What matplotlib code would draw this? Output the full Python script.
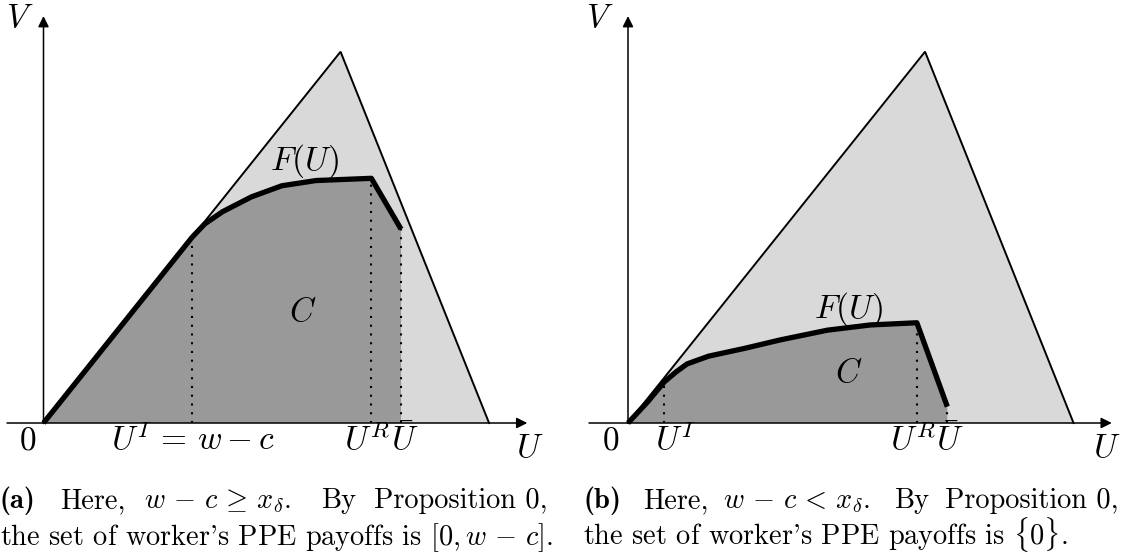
import numpy as np
import matplotlib
matplotlib.use("Agg")
import matplotlib.pyplot as plt

plt.rcParams['mathtext.fontset'] = 'cm'
plt.rcParams['font.family'] = ['cmr10', 'DejaVu Serif']
plt.rcParams['axes.formatter.use_mathtext'] = True

# feasible payoff triangle (same for both panels)
tri_u = [0, 8, 12]
tri_v = [0, 10, 0]

# panel (a): frontier F(U)
fa_u = [0, 4.0, 4.34, 4.82, 5.60, 6.42, 7.34, 8.83, 9.63]
fa_v = [0, 5.0, 5.36, 5.69, 6.09, 6.39, 6.53, 6.59, 5.22]
ui_a, ur_a, ubar_a = 4.0, 8.83, 9.63

# panel (b): frontier F(U)
fb_u = [0, 0.53, 0.98, 1.30, 1.59, 2.17, 3.14, 4.11, 5.37, 6.52, 7.78, 8.60]
fb_v = [0, 0.57, 1.11, 1.38, 1.59, 1.80, 2.01, 2.24, 2.50, 2.64, 2.70, 0.44]
ui_b, ur_b, ubar_b = 0.98, 7.78, 8.60

light = '#d9d9d9'
dark = '#999999'
px = 37.13  # pixels per unit

fig = plt.figure(figsize=(11.25, 5.57), dpi=100)


def panel(rect, x0, fu, fv, ui, ur, ubar, labels):
    ax = fig.add_axes(rect)
    ax.set_xlim(-x0 / px, (560 - x0) / px)
    ax.set_ylim((423 - 470) / px, 423 / px)
    ax.axis('off')

    ax.fill(tri_u, tri_v, color=light, lw=0, zorder=1)
    poly_u = list(fu) + [ubar, 0]
    poly_v = list(fv) + [0, 0]
    ax.fill(poly_u, poly_v, color=dark, lw=0, zorder=2)
    ax.plot(tri_u, tri_v, color='k', lw=1.4, zorder=3, solid_joinstyle='miter')

    for u in (ui, ur, ubar):
        ax.plot([u, u], [0, np.interp(u, fu, fv)], color='k', lw=1.5,
                ls=(0, (1, 3.2)), zorder=4)

    ax.plot(fu, fv, color='k', lw=3.8, zorder=5, solid_joinstyle='round',
            solid_capstyle='butt')

    # axes with arrows
    arrow = dict(arrowstyle='-|>', lw=1.1, color='k', mutation_scale=16,
                 shrinkA=0, shrinkB=0)
    ax.annotate('', xy=(13.03, 0), xytext=(-(x0 - 7) / px if x0 < 50 else -1.05, 0),
                arrowprops=arrow, zorder=6)
    ax.annotate('', xy=(0, 10.96), xytext=(0, 0), arrowprops=arrow, zorder=6)

    for (x, y, s, ha, va) in labels:
        ax.text(x, y, s, ha=ha, va=va, fontsize=24, zorder=7)
    return ax


labels_a = [
    (-0.42, -0.727, r'$0$', 'center', 'baseline'),
    (4.03, -0.727, r'$U^I\,=\,w - c$', 'center', 'baseline'),
    (8.09, -0.727, r'$U^R$', 'left', 'baseline'),
    (9.36, -0.727, r'$\bar{U}$', 'left', 'baseline'),
    (12.72, -0.916, r'$U$', 'left', 'baseline'),
    (-0.633, 10.67, r'$V$', 'center', 'baseline'),
    (7.02, 7.06, r'$F(U)$', 'center', 'center'),
    (6.99, 2.99, r'$C$', 'center', 'center'),
]
labels_b = [
    (-0.46, -0.727, r'$0$', 'center', 'baseline'),
    (0.73, -0.727, r'$U^I$', 'left', 'baseline'),
    (7.06, -0.727, r'$U^R$', 'left', 'baseline'),
    (8.30, -0.727, r'$\bar{U}$', 'left', 'baseline'),
    (12.52, -0.916, r'$U$', 'left', 'baseline'),
    (-0.75, 10.67, r'$V$', 'center', 'baseline'),
    (5.95, 3.07, r'$F(U)$', 'center', 'center'),
    (5.94, 1.35, r'$C$', 'center', 'center'),
]

H = 557.0
W = 1125.0
panel([0, 87 / H, 560 / W, 470 / H], 43.5, fa_u, fa_v, ui_a, ur_a, ubar_a, labels_a)
panel([565 / W, 87 / H, 560 / W, 470 / H], 63.0, fb_u, fb_v, ui_b, ur_b, ubar_b, labels_b)

# captions
cfs = 20.4
y1 = 1 - 508 / H
y2 = 1 - 545 / H
renderer = fig.canvas.get_renderer()


def justified(words, weights, x_start, x_end, y):
    # spread the words of a line between x_start and x_end (pixels)
    texts = [fig.text(0, y, w, fontsize=cfs, va='baseline') for w in words]
    widths = [t.get_window_extent(renderer).width for t in texts]
    unit = (x_end - x_start - sum(widths)) / sum(weights)
    x = x_start
    for i, (t, w) in enumerate(zip(texts, widths)):
        t.set_x(x / W)
        if i < len(weights):
            x += w + unit * weights[i]


cap_a1 = ['Here,', r'$w\,-\,c\,\geq\,x_\delta$.', 'By', 'Proposition 0,']
cap_b1 = ['Here,', r'$w\,-\,c\,<\,x_\delta$.', 'By', 'Proposition 0,']
gaps = [1, 1.6, 1]

fig.text(0 / W, y1, '(a)', family='cmb10', fontsize=cfs, va='baseline')
justified(cap_a1, gaps, 60, 548, y1)
fig.text(0 / W, y2, r"the set of worker's PPE payoffs is $[0, w\,-\,c]$.",
         fontsize=cfs, va='baseline')
fig.text(583 / W, y1, '(b)', family='cmb10', fontsize=cfs, va='baseline')
justified(cap_b1, gaps, 643, 1118, y1)
fig.text(583 / W, y2, r"the set of worker's PPE payoffs is $\{0\}$.",
         fontsize=cfs, va='baseline')

fig.savefig('out.png', dpi=100)
